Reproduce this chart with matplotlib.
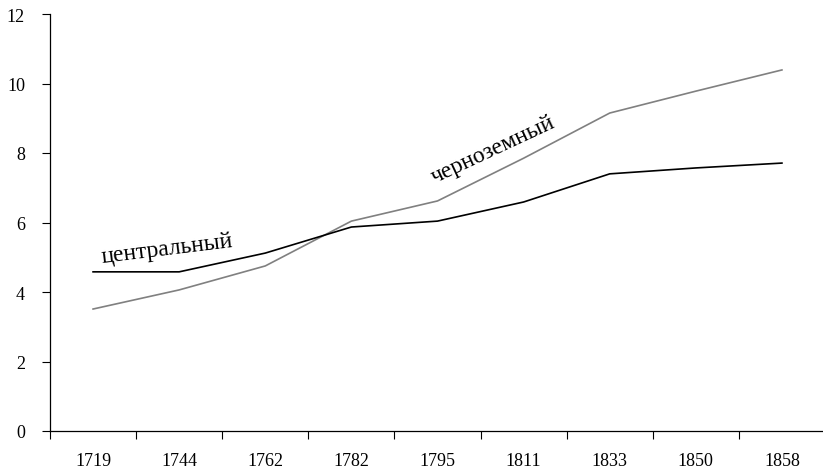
import matplotlib.pyplot as plt
import numpy as np

years = ['1719', '1744', '1762', '1782', '1795', '1811', '1833', '1850', '1858']
central = [4.58, 4.58, 5.12, 5.87, 6.04, 6.59, 7.40, 7.57, 7.71]
chernozem = [3.51, 4.06, 4.75, 6.04, 6.62, 7.85, 9.15, 9.78, 10.39]

plt.rcParams['font.family'] = ['Liberation Serif', 'DejaVu Serif']

fig = plt.figure(figsize=(8.23, 4.77), dpi=100)
ax = fig.add_axes([50 / 823, 45 / 477, 775 / 823, 417 / 477])

x = np.arange(len(years))
ax.plot(x, chernozem, color='#808080', linewidth=1.2)
ax.plot(x, central, color='black', linewidth=1.2)

ax.set_xlim(-0.5, len(years) - 0.5)
ax.set_ylim(0, 12)
ax.set_yticks(range(0, 13, 2))
ax.set_yticklabels([str(v) for v in range(0, 13, 2)], fontsize=13)

# category ticks between labels
ax.set_xticks(np.arange(-0.5, len(years) - 0.5, 1))
ax.set_xticklabels([])
ax.set_xticks(x, minor=True)
ax.set_xticklabels(years, minor=True, fontsize=13)
ax.tick_params(axis='x', which='major', length=6, width=0.8, direction='out')
ax.tick_params(axis='x', which='minor', length=0, pad=15)
ax.tick_params(axis='y', length=6, width=0.8, pad=12)

for s in ['top', 'right']:
    ax.spines[s].set_visible(False)
ax.spines['left'].set_linewidth(0.9)
ax.spines['bottom'].set_linewidth(0.9)

ax.text(0.86, 5.24, 'центральный', fontsize=17, rotation=7,
        ha='center', va='center', rotation_mode='anchor')
ax.text(4.65, 8.1, 'черноземный', fontsize=17, rotation=25,
        ha='center', va='center', rotation_mode='anchor')

fig.savefig('out.png', dpi=100)
